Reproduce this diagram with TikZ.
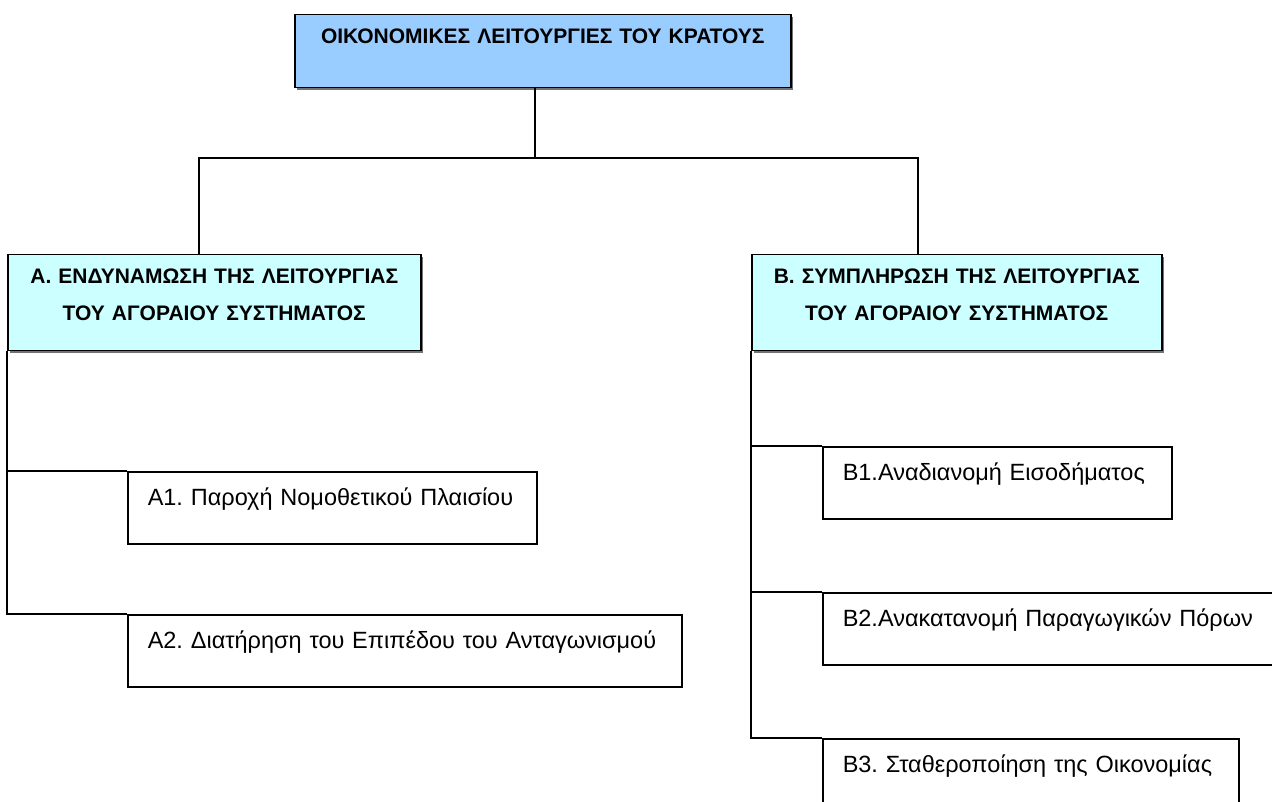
\documentclass[tikz,border=0pt]{standalone}
\usepackage{fontspec}
\setmainfont{Liberation Sans}
\usepackage{xcolor}
\usetikzlibrary{shadows}
\definecolor{topblue}{RGB}{153,204,255}
\definecolor{paleaqua}{RGB}{204,255,255}
\newcommand{\headfont}{\fontsize{21}{37}\selectfont\bfseries}
\newcommand{\itemfont}{\fontsize{23.5}{28}\selectfont}
\frenchspacing

\begin{document}
\begin{tikzpicture}[x=1pt, y=-1pt,
    headbox/.style={draw, line width=1.5pt, anchor=north west, align=center,
      inner xsep=6pt, inner ysep=0pt, font=\headfont,
      drop shadow={shadow xshift=2pt, shadow yshift=-2pt, fill=black!55, opacity=1}},
    itembox/.style={draw, line width=1.5pt, anchor=north west, align=left,
      inner xsep=20pt, inner ysep=0pt, text height=34pt, text depth=38pt,
      font=\itemfont},
    link/.style={line width=1.9pt}]
    \useasboundingbox (0,0) rectangle (1272,802);

    % Top box
    \node[headbox, fill=topblue, text width=484pt, text height=29pt, text depth=44pt]
        (top) at (294,14) {ΟΙΚΟΝΟΜΙΚΕΣ ΛΕΙΤΟΥΡΓΙΕΣ ΤΟΥ ΚΡΑΤΟΥΣ};

    % Second level
    \node[headbox, fill=paleaqua, text width=401pt, text height=28.5pt, text depth=67.5pt]
        (secA) at (7,254) {Α. ΕΝΔΥΝΑΜΩΣΗ ΤΗΣ ΛΕΙΤΟΥΡΓΙΑΣ\\ΤΟΥ ΑΓΟΡΑΙΟΥ ΣΥΣΤΗΜΑΤΟΣ};
    \node[headbox, fill=paleaqua, text width=398pt, text height=28.5pt, text depth=67.5pt]
        (secB) at (751,254) {Β. ΣΥΜΠΛΗΡΩΣΗ ΤΗΣ ΛΕΙΤΟΥΡΓΙΑΣ\\ΤΟΥ ΑΓΟΡΑΙΟΥ ΣΥΣΤΗΜΑΤΟΣ};

    % Branch A items
    \node[itembox, text width=369pt] (a1) at (127,471) {Α1. Παροχή Νομοθετικού Πλαισίου};
    \node[itembox, text width=514pt] (a2) at (127,614) {Α2. Διατήρηση του Επιπέδου του Ανταγωνισμού};

    % Branch B items
    \node[itembox, text width=309pt] (b1) at (822,446) {Β1.Αναδιανομή Εισοδήματος};
    \node[itembox, text width=438pt] (b2) at (822,592) {Β2.Ανακατανομή Παραγωγικών Πόρων};
    \node[itembox, text width=376pt] (b3) at (822,738) {Β3. Σταθεροποίηση της Οικονομίας};

    % Connectors from the top
    \coordinate (hubL) at (199,158);
    \coordinate (hubM) at (535,158);
    \coordinate (hubR) at (918,158);
    \draw[link] (top.south -| hubM) -- (hubM);
    \draw[link] (hubL |- secA.north) -- (hubL) -- (hubR) -- (hubR |- secB.north);

    % Trunk A
    \draw[link] (secA.south west) |- (a2.north west);
    \draw[link] (secA.south west |- a1.north) -- (a1.north west);

    % Trunk B
    \draw[link] (secB.south west) |- (b3.north west);
    \draw[link] (secB.south west |- b1.north) -- (b1.north west);
    \draw[link] (secB.south west |- b2.north) -- (b2.north west);
\end{tikzpicture}
\end{document}
